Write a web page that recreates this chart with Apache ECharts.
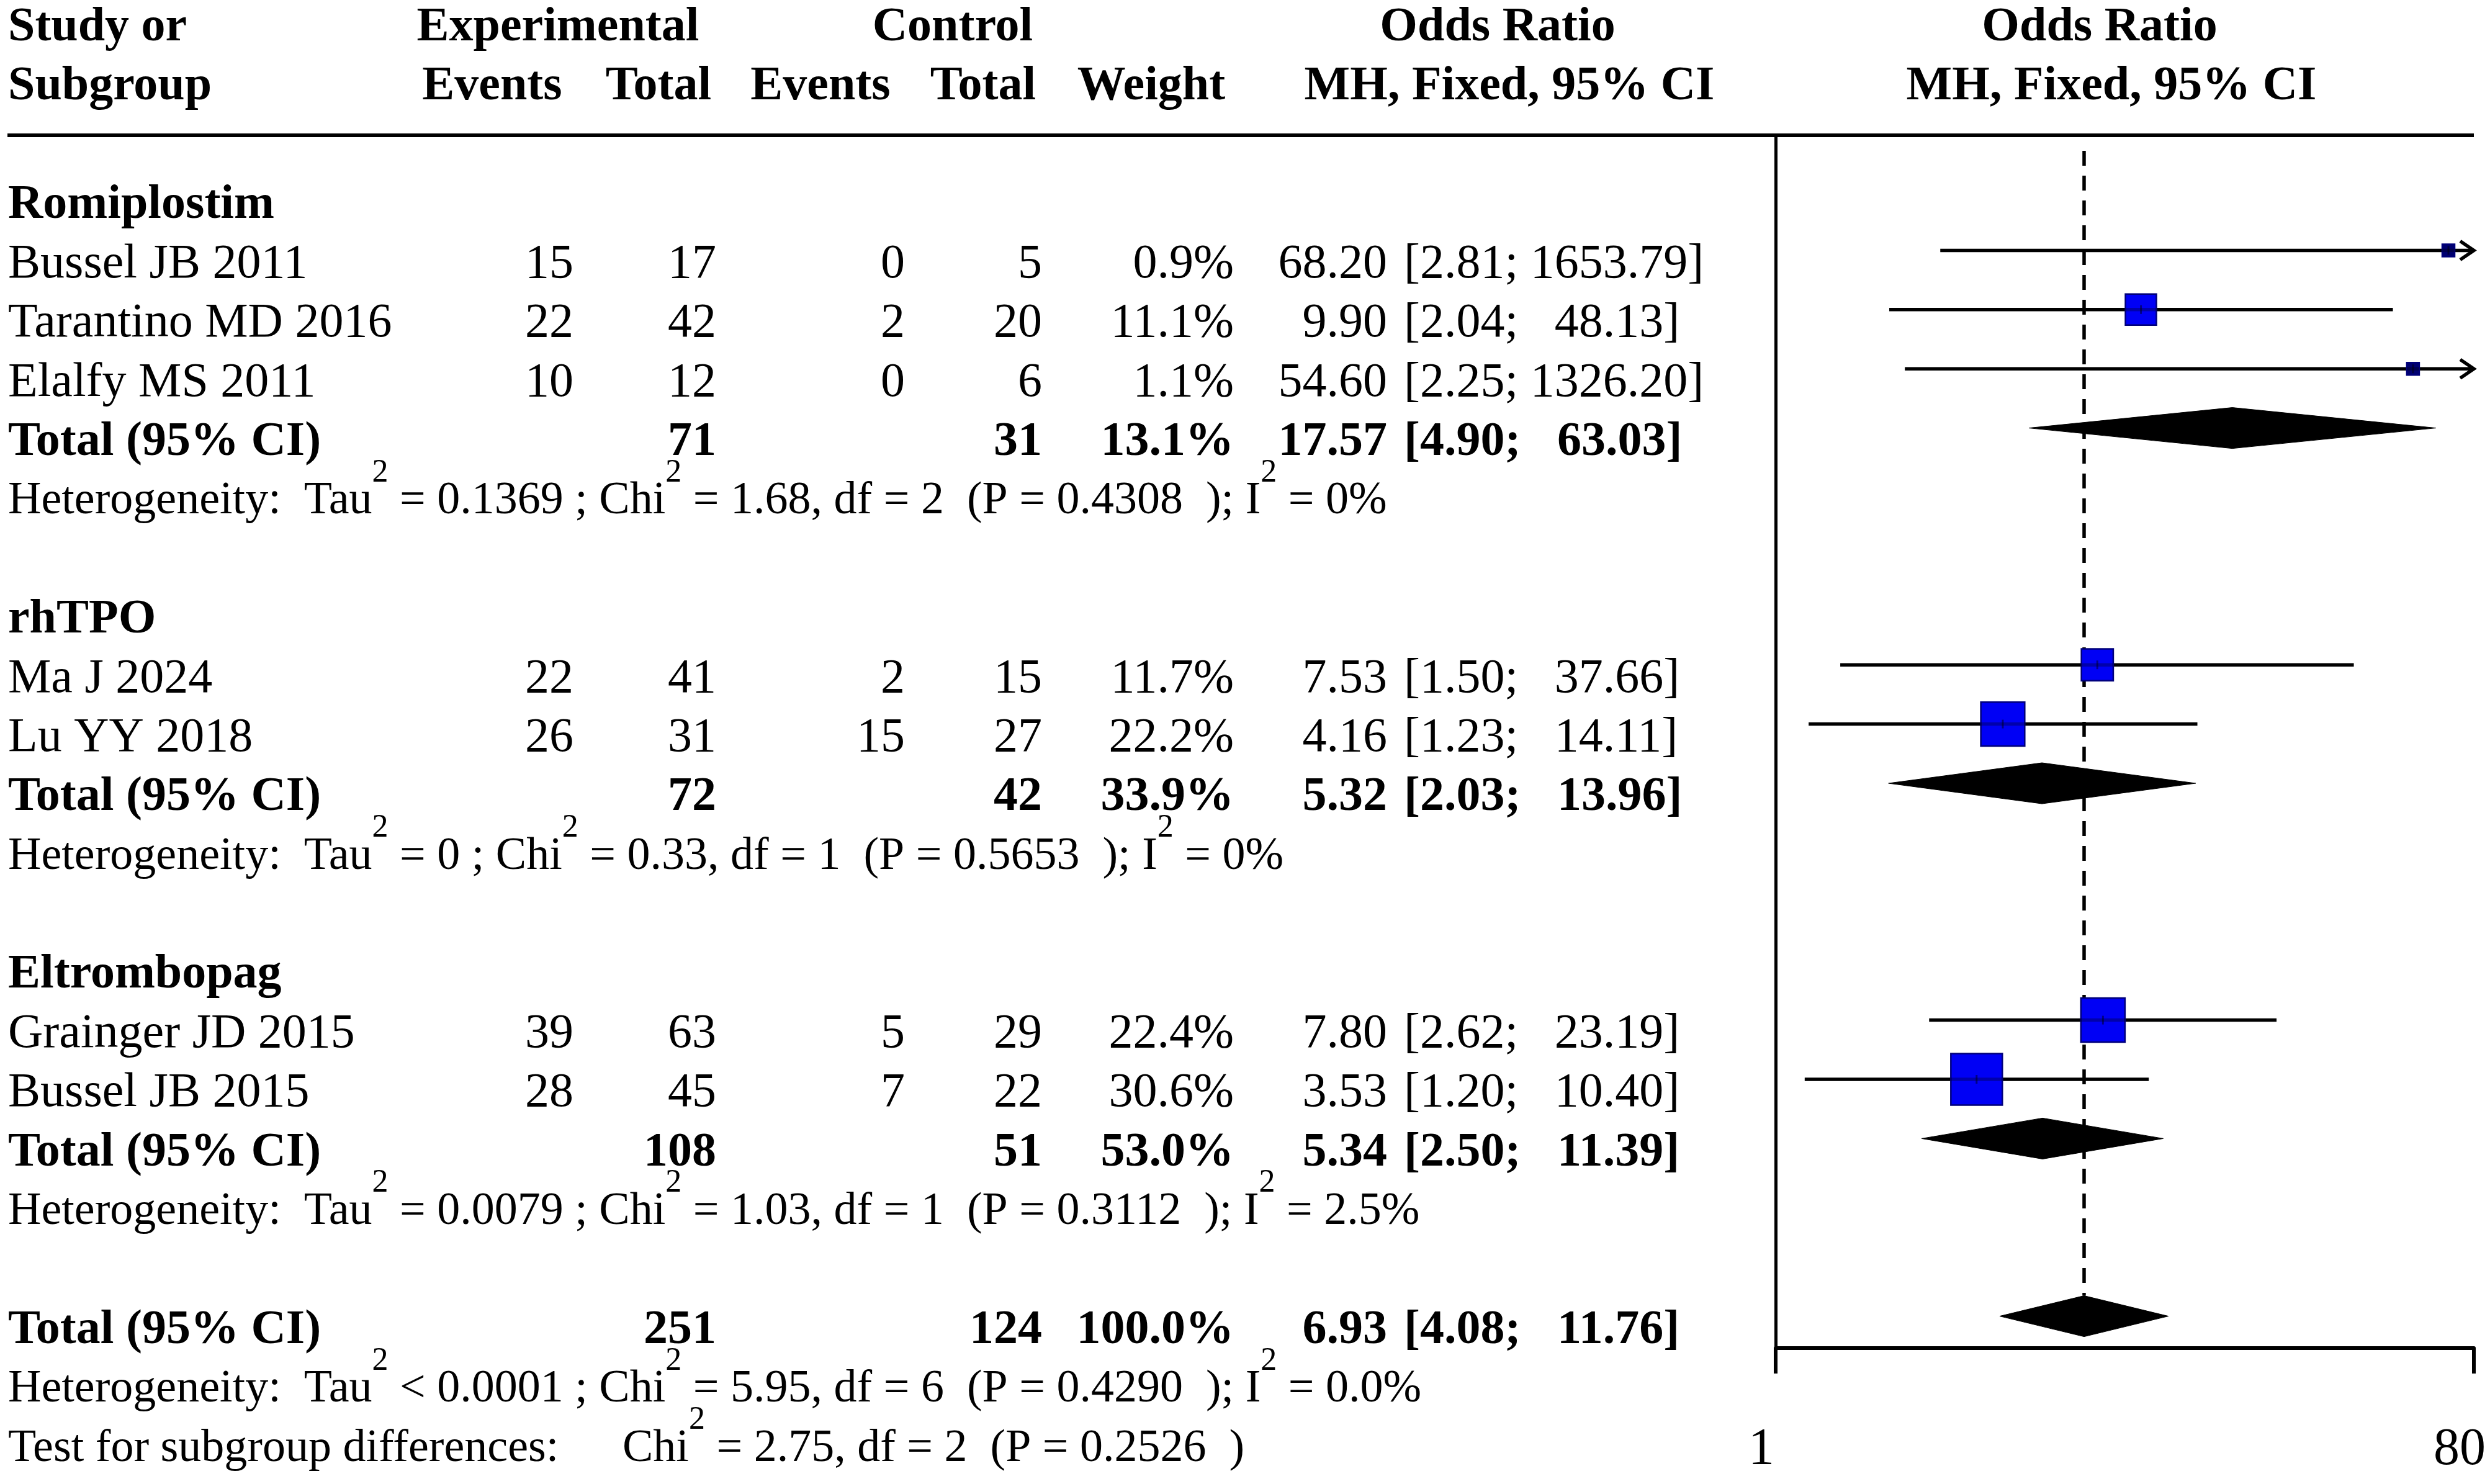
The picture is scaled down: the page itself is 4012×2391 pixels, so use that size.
<!DOCTYPE html>
<html>
<head>
<meta charset="utf-8">
<script src="https://cdn.jsdelivr.net/npm/echarts@6/dist/echarts.min.js"></script>
<style>
html,body{margin:0;padding:0;background:#fff;}
#chart{width:4012px;height:2391px;}
</style>
</head>
<body>
<div id="chart"></div>
<script>
// ---------------- DATA ----------------
const groups = ['Romiplostim', 'rhTPO', 'Eltrombopag'];
const studies = ['Bussel JB 2011', 'Tarantino MD 2016', 'Elalfy MS 2011', 'Ma J 2024', 'Lu YY 2018', 'Grainger JD 2015', 'Bussel JB 2015'];
const studyGroup = [0, 0, 0, 1, 1, 2, 2];
const expEvents = [15, 22, 10, 22, 26, 39, 28];
const expTotal = [17, 42, 12, 41, 31, 63, 45];
const ctrlEvents = [0, 2, 0, 2, 15, 5, 7];
const ctrlTotal = [5, 20, 6, 15, 27, 29, 22];
const weights = [0.9, 11.1, 1.1, 11.7, 22.2, 22.4, 30.6];
const oddsRatios = [68.20, 9.90, 54.60, 7.53, 4.16, 7.80, 3.53];
const ciLower = [2.81, 2.04, 2.25, 1.50, 1.23, 2.62, 1.20];
const ciUpper = [1653.79, 48.13, 1326.20, 37.66, 14.11, 23.19, 10.40];

const subExpTotal = [71, 72, 108];
const subCtrlTotal = [31, 42, 51];
const subWeight = [13.1, 33.9, 53.0];
const subOR = [17.57, 5.32, 5.34];
const subLower = [4.90, 2.03, 2.50];
const subUpper = [63.03, 13.96, 11.39];
const subTau2 = ['= 0.1369', '= 0', '= 0.0079'];
const subChi2 = ['1.68', '0.33', '1.03'];
const subDf = [2, 1, 1];
const subP = ['0.4308', '0.5653', '0.3112'];
const subI2 = ['0%', '0%', '2.5%'];

const overallExp = 251;
const overallCtrl = 124;
const overallWeight = 100.0;
const overallOR = 6.93;
const overallLower = 4.08;
const overallUpper = 11.76;
const overallTau2 = '< 0.0001';
const overallChi2 = '5.95';
const overallDf = 6;
const overallP = '0.4290';
const overallI2 = '0.0%';
const testChi2 = '2.75';
const testDf = 2;
const testP = '0.2526';

const axisTickValues = [1, 80];

// ---------------- LAYOUT ----------------
const W = 4012, H = 2391;
const SERIF = "'Liberation Serif','Times New Roman',serif";
const ROW0 = 331, ROWH = 95.4;          // text row centres
const MARK_SHIFT = -23;                   // plot marks sit slightly above text centres
const PLOT_LEFT = 2861, PLOT_RIGHT = 3986, PLOT_TOP = 218, PLOT_BOTTOM = 2172;
const COL = { name: 13, expEv: 924, expTot: 1154, ctrlEv: 1458, ctrlTot: 1679, weight: 1988, orR: 2235, ciL: 2262 };
const DIAMOND_HALF = 33;

const KIND = {
  h: { size: 78, weight: 'bold' },
  b: { size: 78, weight: 'bold' },
  r: { size: 78, weight: 'normal' },
  het: { size: 74, weight: 'normal', lh: 144, rich: { sup: { fontSize: 52, lineHeight: 44, verticalAlign: 'top', fontFamily: SERIF } } }
};

const cells = [];
function addCell(x, row, text, align, kind) { cells.push({ x: x, row: row, text: text, align: align, kind: kind }); }
function pad(s, n) { while (s.length < n) s = ' ' + s; return s; }
function ciText(lo, hi) { return '[' + lo.toFixed(2) + '; ' + pad(hi.toFixed(2), 7) + ']'; }
function hetText(tau, chi, df, p, i2) {
  return 'Heterogeneity:  Tau{sup|2} ' + tau + ' ; Chi{sup|2} = ' + chi + ', df = ' + df + '  (P = ' + p + '  ); I{sup|2} = ' + i2;
}

// header
addCell(COL.name, -3, 'Study or', 'left', 'h');
addCell(COL.name, -2, 'Subgroup', 'left', 'h');
addCell(899, -3, 'Experimental', 'center', 'h');
addCell(1535, -3, 'Control', 'center', 'h');
addCell(2413, -3, 'Odds Ratio', 'center', 'h');
addCell(3383, -3, 'Odds Ratio', 'center', 'h');
addCell(793, -2, 'Events', 'center', 'h');
addCell(1061, -2, 'Total', 'center', 'h');
addCell(1322, -2, 'Events', 'center', 'h');
addCell(1584, -2, 'Total', 'center', 'h');
addCell(1855, -2, 'Weight', 'center', 'h');
addCell(2432, -2, 'MH, Fixed, 95% CI', 'center', 'h');
addCell(3402, -2, 'MH, Fixed, 95% CI', 'center', 'h');

const studyRows = [], totalRows = [];
let row = 0;
groups.forEach(function (g, gi) {
  addCell(COL.name, row, g, 'left', 'b'); row++;
  studies.forEach(function (s, si) {
    if (studyGroup[si] !== gi) return;
    studyRows[si] = row;
    addCell(COL.name, row, s, 'left', 'r');
    addCell(COL.expEv, row, String(expEvents[si]), 'right', 'r');
    addCell(COL.expTot, row, String(expTotal[si]), 'right', 'r');
    addCell(COL.ctrlEv, row, String(ctrlEvents[si]), 'right', 'r');
    addCell(COL.ctrlTot, row, String(ctrlTotal[si]), 'right', 'r');
    addCell(COL.weight, row, weights[si].toFixed(1) + '%', 'right', 'r');
    addCell(COL.orR, row, oddsRatios[si].toFixed(2), 'right', 'r');
    addCell(COL.ciL, row, ciText(ciLower[si], ciUpper[si]), 'left', 'r');
    row++;
  });
  totalRows[gi] = row;
  addCell(COL.name, row, 'Total (95% CI)', 'left', 'b');
  addCell(COL.expTot, row, String(subExpTotal[gi]), 'right', 'b');
  addCell(COL.ctrlTot, row, String(subCtrlTotal[gi]), 'right', 'b');
  addCell(COL.weight, row, subWeight[gi].toFixed(1) + '%', 'right', 'b');
  addCell(COL.orR, row, subOR[gi].toFixed(2), 'right', 'b');
  addCell(COL.ciL, row, ciText(subLower[gi], subUpper[gi]), 'left', 'b');
  row++;
  addCell(COL.name, row, hetText(subTau2[gi], subChi2[gi], subDf[gi], subP[gi], subI2[gi]), 'left', 'het');
  row++;
  row++; // blank line
});
const overallRow = row;
addCell(COL.name, row, 'Total (95% CI)', 'left', 'b');
addCell(COL.expTot, row, String(overallExp), 'right', 'b');
addCell(COL.ctrlTot, row, String(overallCtrl), 'right', 'b');
addCell(COL.weight, row, overallWeight.toFixed(1) + '%', 'right', 'b');
addCell(COL.orR, row, overallOR.toFixed(2), 'right', 'b');
addCell(COL.ciL, row, ciText(overallLower, overallUpper), 'left', 'b');
row++;
addCell(COL.name, row, hetText(overallTau2, overallChi2, overallDf, overallP, overallI2), 'left', 'het');
row++;
addCell(COL.name, row, 'Test for subgroup differences:', 'left', 'het');
addCell(1003, row, 'Chi{sup|2} = ' + testChi2 + ', df = ' + testDf + '  (P = ' + testP + '  )', 'left', 'het');

// plot data
const studyData = studies.map(function (s, i) { return [oddsRatios[i], ciLower[i], ciUpper[i], studyRows[i], weights[i]]; });
const diamondData = groups.map(function (g, gi) { return [subOR[gi], subLower[gi], subUpper[gi], totalRows[gi]]; });
diamondData.push([overallOR, overallLower, overallUpper, overallRow]);

const AX_MIN = axisTickValues[0], AX_MAX = axisTickValues[axisTickValues.length - 1];

// ---------------- RENDERERS ----------------
function renderCell(params, api) {
  const c = cells[params.dataIndex];
  const pt = api.coord([c.x, c.row]);
  const k = KIND[c.kind];
  const style = {
    text: c.text, fill: '#000', fontFamily: SERIF, fontSize: k.size, fontWeight: k.weight,
    align: c.align, verticalAlign: 'middle'
  };
  if (k.lh) style.lineHeight = k.lh;
  if (k.rich) style.rich = k.rich;
  return { type: 'text', x: pt[0], y: pt[1], style: style };
}

function renderStudy(params, api) {
  const or = api.value(0), lo = api.value(1), hi = api.value(2), r = api.value(3), w = api.value(4);
  const p = api.coord([or, r]);
  const xl = api.coord([Math.max(lo, AX_MIN), r])[0];
  const xh = api.coord([Math.min(hi, AX_MAX), r])[0];
  const y = p[1];
  const side = Math.max(20, 15 * Math.sqrt(w));
  const small = side < 30;
  const children = [
    { type: 'line', shape: { x1: xl, y1: y, x2: xh, y2: y }, style: { stroke: '#000', lineWidth: 5.5 } }
  ];
  if (hi > AX_MAX) {
    children.push({ type: 'polyline', shape: { points: [[xh - 22, y - 15], [xh, y], [xh - 22, y + 15]] },
      style: { stroke: '#000', lineWidth: 5.5, fill: null } });
  }
  if (lo < AX_MIN) {
    children.push({ type: 'polyline', shape: { points: [[xl + 22, y - 15], [xl, y], [xl + 22, y + 15]] },
      style: { stroke: '#000', lineWidth: 5.5, fill: null } });
  }
  children.push({ type: 'rect', shape: { x: p[0] - side / 2, y: y - side / 2, width: side, height: side },
    style: { fill: small ? '#000070' : '#0000f5', stroke: '#00007a', lineWidth: 2.5 } });
  children.push({ type: 'line', shape: { x1: p[0] - side / 2, y1: y, x2: p[0] + side / 2, y2: y },
    style: { stroke: '#000', opacity: 0.3, lineWidth: 5.5 } });
  children.push({ type: 'line', shape: { x1: p[0], y1: y - 7, x2: p[0], y2: y + 7 },
    style: { stroke: '#000', opacity: 0.45, lineWidth: 3 } });
  return { type: 'group', children: children };
}

function renderDiamond(params, api) {
  const or = api.value(0), lo = api.value(1), hi = api.value(2), r = api.value(3);
  const p = api.coord([or, r]);
  const xl = api.coord([Math.max(lo, AX_MIN), r])[0];
  const xh = api.coord([Math.min(hi, AX_MAX), r])[0];
  return { type: 'polygon', shape: { points: [[xl, p[1]], [p[0], p[1] - DIAMOND_HALF], [xh, p[1]], [p[0], p[1] + DIAMOND_HALF]] },
    style: { fill: '#000', stroke: '#000', lineWidth: 1, lineJoin: 'round' } };
}

function renderRefLine(params, api) {
  const p = api.coord([api.value(0), api.value(1)]);
  const top = params.coordSys.y + 25;
  return { type: 'line', shape: { x1: p[0], y1: top, x2: p[0], y2: p[1] - DIAMOND_HALF },
    style: { stroke: '#000', lineWidth: 5.5, lineDash: [24, 16] } };
}

// ---------------- CHART ----------------
const chart = echarts.init(document.getElementById('chart'), null, { renderer: 'canvas' });
const tableMin = -ROW0 / ROWH, tableMax = (H - ROW0) / ROWH;
const plotRow0 = ROW0 + MARK_SHIFT;
const plotMin = (PLOT_TOP - plotRow0) / ROWH, plotMax = (PLOT_BOTTOM - plotRow0) / ROWH;

chart.setOption({
  backgroundColor: '#fff',
  animation: false,
  grid: [
    { left: 0, top: 0, width: W, height: H },
    { left: PLOT_LEFT, top: PLOT_TOP, width: PLOT_RIGHT - PLOT_LEFT, height: PLOT_BOTTOM - PLOT_TOP }
  ],
  xAxis: [
    { type: 'value', gridIndex: 0, min: 0, max: W, show: false },
    { type: 'log', gridIndex: 1, logBase: AX_MAX, min: AX_MIN, max: AX_MAX,
      axisLine: { show: true, onZero: false, lineStyle: { color: '#000', width: 6 } },
      axisTick: { show: true, length: 41, lineStyle: { color: '#000', width: 6 } },
      axisLabel: { show: true, margin: 123, fontSize: 84, fontFamily: SERIF, color: '#000', padding: [0, 46, 0, 0] },
      splitLine: { show: false }, minorTick: { show: false }, minorSplitLine: { show: false } }
  ],
  yAxis: [
    { type: 'value', gridIndex: 0, inverse: true, min: tableMin, max: tableMax, show: false },
    { type: 'value', gridIndex: 1, inverse: true, min: plotMin, max: plotMax,
      axisLine: { show: true, onZero: false, lineStyle: { color: '#000', width: 5 } },
      axisTick: { show: false }, axisLabel: { show: false }, splitLine: { show: false } }
  ],
  graphic: [
    { type: 'line', shape: { x1: 12, y1: PLOT_TOP, x2: PLOT_RIGHT, y2: PLOT_TOP }, style: { stroke: '#000', lineWidth: 6 }, silent: true }
  ],
  series: [
    { type: 'custom', name: 'table', xAxisIndex: 0, yAxisIndex: 0, silent: true, clip: false,
      data: cells.map(function (c) { return [c.x, c.row]; }), renderItem: renderCell },
    { type: 'custom', name: 'reference', xAxisIndex: 1, yAxisIndex: 1, silent: true, clip: false,
      encode: { x: 0, y: 1 }, data: [[overallOR, overallRow]], renderItem: renderRefLine, z: 1 },
    { type: 'custom', name: 'studies', xAxisIndex: 1, yAxisIndex: 1, silent: true, clip: false,
      encode: { x: 0, y: 3 }, data: studyData, renderItem: renderStudy, z: 3 },
    { type: 'custom', name: 'pooled', xAxisIndex: 1, yAxisIndex: 1, silent: true, clip: false,
      encode: { x: 0, y: 3 }, data: diamondData, renderItem: renderDiamond, z: 2 }
  ]
});
</script>
</body>
</html>
